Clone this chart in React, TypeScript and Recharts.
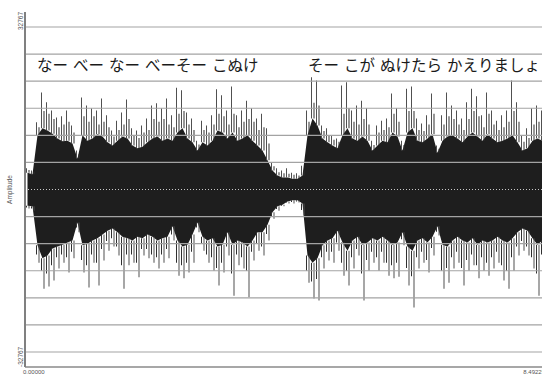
import React from "react";
import { ComposedChart, Area, Bar, XAxis, YAxis, ReferenceLine } from "recharts";

// Waveform envelope, one entry per column (amplitude units)
const CORE_HI = [3100, 2800, 10000, 11300, 10900, 10300, 9400, 8900, 9000, 8500, 5700, 10000, 9000, 9400, 10200, 9800, 8700, 8100, 9000, 9800, 9400, 8100, 7600, 7900, 8700, 9400, 9800, 9000, 9400, 9000, 10500, 11300, 9400, 8700, 7200, 8700, 8100, 9000, 10900, 10500, 9400, 10500, 9000, 9400, 10000, 9000, 8100, 7200, 5400, 3500, 2600, 2200, 2200, 2000, 2000, 2600, 10000, 13100, 11800, 9400, 8700, 8100, 7600, 10000, 11300, 9400, 9000, 9800, 9000, 7200, 8100, 9000, 8700, 10500, 9800, 7200, 10500, 11300, 9000, 8700, 9400, 10200, 6800, 9000, 9800, 10000, 9400, 8700, 9800, 10500, 9800, 9000, 10200, 9400, 8700, 9000, 9400, 10000, 8700, 7200, 7600, 9000, 9400, 9000];
const SPIKE_HI = [3900, 3500, 12400, 17900, 16100, 14600, 13300, 13500, 14600, 11800, 7200, 17000, 15500, 15000, 14600, 16800, 13700, 10900, 12700, 14200, 16600, 11300, 10900, 11800, 13100, 15500, 15900, 15000, 16800, 13700, 18800, 18300, 14200, 13100, 9000, 12700, 11800, 13700, 18500, 17400, 14600, 19000, 13700, 14600, 16400, 15000, 13100, 14000, 11300, 5000, 3900, 3500, 3900, 3100, 3000, 4400, 14600, 20700, 20100, 11800, 11300, 10000, 9400, 19200, 19800, 14600, 15500, 16400, 15000, 9000, 11800, 12700, 13100, 17700, 15000, 9000, 18600, 19000, 13100, 12200, 13700, 17700, 8100, 13700, 17900, 15500, 14600, 13100, 16100, 18600, 17200, 13700, 17900, 14600, 12700, 13700, 14600, 20100, 16100, 10000, 11300, 15000, 15500, 14600];
const SPIKE2_HI = [3600, 3300, 11500, 14500, 14000, 13000, 11500, 12000, 12500, 10500, 6500, 13500, 12500, 13500, 12000, 12500, 11500, 9800, 11000, 12000, 13000, 10000, 9500, 10500, 11000, 13000, 12500, 13000, 12000, 11500, 14000, 14500, 12000, 11000, 8300, 11000, 10500, 12000, 14000, 13500, 12000, 14000, 11500, 12500, 13000, 12500, 11000, 11500, 8500, 4300, 3200, 3000, 2900, 2700, 2600, 3500, 12500, 16000, 15500, 10800, 10000, 9200, 8800, 14000, 15000, 12500, 12000, 13000, 12000, 8200, 10500, 11000, 11500, 14000, 12500, 8200, 14500, 14500, 11000, 10800, 12000, 14000, 7500, 12000, 13500, 13000, 12000, 11000, 13000, 14500, 13500, 11500, 14000, 12000, 11000, 11500, 12500, 14500, 12500, 8800, 9500, 12000, 12500, 12000];
const CORE_LO = [-3000, -3100, -10300, -12700, -12200, -10900, -10500, -10200, -9800, -9400, -6100, -10300, -10000, -9400, -9000, -8300, -7600, -7200, -7900, -8700, -9000, -9400, -8700, -9000, -8300, -8700, -9400, -9000, -8700, -6800, -9400, -10500, -10200, -8300, -6100, -8700, -9400, -9000, -10500, -10200, -7900, -10200, -9400, -9800, -10500, -9400, -7900, -7900, -6500, -4200, -3100, -2800, -2200, -2000, -2000, -2600, -12200, -13500, -12700, -10300, -9400, -9000, -7600, -9800, -11300, -9400, -8700, -10200, -9800, -9000, -9400, -8700, -9400, -10200, -9800, -7900, -10500, -11300, -9400, -9000, -9800, -8700, -6800, -10200, -10500, -9400, -8700, -9400, -9800, -9000, -10200, -9400, -9800, -9400, -8700, -9400, -9800, -9000, -7900, -7200, -7600, -9000, -10200, -9400];
const SPIKE_LO = [-3500, -3900, -13500, -18300, -17900, -16800, -14600, -13500, -15300, -12700, -7900, -15300, -18100, -13500, -17700, -13100, -11300, -10500, -12200, -18300, -14000, -13500, -16200, -12200, -12700, -13500, -14600, -13500, -12700, -9400, -15900, -16400, -15300, -13500, -7900, -11300, -13500, -15000, -17700, -15300, -12200, -19600, -14000, -14600, -19900, -13100, -11300, -12200, -9400, -5400, -3900, -3100, -2600, -2600, -2400, -4800, -17200, -20100, -20500, -14600, -13100, -13500, -11300, -15900, -17700, -14600, -12200, -20500, -15000, -13500, -15000, -13500, -15900, -16400, -16100, -10300, -17700, -21800, -14600, -13500, -15300, -12200, -8500, -18300, -17200, -14600, -13500, -17700, -15000, -14000, -16400, -15000, -15900, -14600, -13500, -16800, -18300, -15000, -12200, -11300, -12200, -14600, -19600, -14000];
const SPIKE2_LO = [-3300, -3500, -12000, -15000, -15500, -14000, -12500, -12000, -12500, -11500, -7000, -13000, -14000, -12000, -13500, -11000, -9500, -9000, -10500, -14000, -12000, -12000, -13500, -11000, -11000, -12000, -12500, -12000, -11000, -8300, -13500, -14000, -13500, -11500, -7000, -10000, -12000, -12500, -14500, -13500, -10500, -15500, -12000, -12500, -15000, -11500, -10000, -10500, -8200, -5000, -3600, -3000, -2400, -2300, -2200, -3800, -15000, -17000, -16500, -12500, -11500, -11500, -9800, -13500, -15000, -12500, -11000, -15500, -13000, -11500, -12500, -11500, -13500, -14000, -13500, -9200, -14500, -16000, -12500, -11500, -13000, -10800, -7800, -15000, -14500, -12500, -11500, -14500, -13000, -12000, -14000, -12500, -13500, -12500, -11500, -14000, -15000, -12500, -10500, -9500, -10500, -12500, -15500, -12000];

const Y_TICKS = [-32767, 32767];
const X_TICK_LABELS = ["0.00000", "8.49229"];
const GRID_VALUES = [30000, 25000, 20000, 15000, 10000, 5000, -5000, -10000, -15000, -20000, -25000, -30000];
const LYRICS_1 = "なー べー なー べーそー こぬけ";
const LYRICS_2 = "そー こが ぬけたら かえりましょ";

const data = CORE_HI.map((_, i) => ({
  i,
  coreHi: CORE_HI[i],
  spikeHi: SPIKE_HI[i],
  spike2Hi: SPIKE2_HI[i],
  coreLo: CORE_LO[i],
  spikeLo: SPIKE_LO[i],
  spike2Lo: SPIKE2_LO[i],
}));
const LAST = data.length - 1;

const LABEL_FONT = "'Liberation Sans', Arial, sans-serif";

const YTick = (props: any) => {
  const { y, payload } = props;
  const top = payload.value > 0;
  return (
    <text
      x={23}
      y={y}
      transform={`rotate(-90 23 ${y})`}
      textAnchor={top ? "end" : "start"}
      fontSize={6.5}
      fill="#555"
      fontFamily={LABEL_FONT}
    >
      {payload.value}
    </text>
  );
};

const XTick = (props: any) => {
  const { x, y, payload } = props;
  const first = payload.value === 0;
  return (
    <text
      x={first ? x - 4.5 : x + 2.5}
      y={y + 7}
      textAnchor={first ? "start" : "end"}
      fontSize={6}
      fill="#555"
      fontFamily={LABEL_FONT}
    >
      {first ? X_TICK_LABELS[0] : X_TICK_LABELS[1]}
    </text>
  );
};

const AmpLabel = (props: any) => {
  const vb = props.viewBox || {};
  const cy = vb.y != null && vb.height != null ? vb.y + vb.height / 2 : 189;
  return (
    <text
      x={12}
      y={cy}
      transform={`rotate(-90 12 ${cy})`}
      textAnchor="middle"
      fontSize={6.5}
      fill="#555"
      fontFamily={LABEL_FONT}
    >
      Amplitude
    </text>
  );
};

const lyricStyle: React.CSSProperties = {
  position: "absolute",
  top: 57,
  fontFamily: "'Noto Sans CJK JP', sans-serif",
  fontSize: 15.5,
  lineHeight: "15.5px",
  color: "#1a1a1a",
  whiteSpace: "pre",
  wordSpacing: 1.5,
};

export default function App() {
  return (
    <div
      style={{
        position: "fixed",
        left: 0,
        top: 0,
        width: 542,
        height: 376,
        overflow: "hidden",
        background: "#fff",
      }}
    >
      <ComposedChart
        width={560}
        height={376}
        data={data}
        barGap={1.5}
        margin={{ top: 12, right: 15, bottom: 0, left: 0 }}
      >
        <XAxis xAxisId="wu" dataKey="i" type="category" hide />
        <XAxis
          xAxisId="wl"
          dataKey="i"
          type="category"
          ticks={[0, LAST]}
          interval={0}
          height={9}
          tickLine={false}
          tickSize={0}
          tickMargin={0}
          axisLine={{ stroke: "#8a8a8a", strokeWidth: 1.5 }}
          tick={<XTick />}
        />
        <YAxis
          type="number"
          domain={[-32767, 32767]}
          ticks={Y_TICKS}
          interval={0}
          allowDataOverflow
          width={25}
          tickLine={false}
          axisLine={{ stroke: "#808080", strokeWidth: 2 }}
          tick={<YTick />}
          label={<AmpLabel />}
        />
        <Bar
          xAxisId="wu"
          dataKey={(d: any) => [d.coreHi, d.spikeHi]}
          barSize={1}
          fill="#505050"
          isAnimationActive={false}
        />
        <Bar
          xAxisId="wu"
          dataKey={(d: any) => [d.coreHi, d.spike2Hi]}
          barSize={1}
          fill="#303030"
          isAnimationActive={false}
        />
        <Bar
          xAxisId="wl"
          dataKey={(d: any) => [d.spike2Lo, d.coreLo]}
          barSize={1}
          fill="#303030"
          isAnimationActive={false}
        />
        <Bar
          xAxisId="wl"
          dataKey={(d: any) => [d.spikeLo, d.coreLo]}
          barSize={1}
          fill="#505050"
          isAnimationActive={false}
        />
        <Area
          xAxisId="wu"
          type="linear"
          dataKey={(d: any) => [d.coreLo, d.coreHi]}
          stroke="none"
          fill="#1e1e1e"
          fillOpacity={1}
          isAnimationActive={false}
          dot={false}
          activeDot={false}
        />
        {GRID_VALUES.map((v) => (
          <ReferenceLine
            key={v}
            xAxisId="wu"
            y={v}
            stroke="#a3a3a3"
            strokeWidth={1.2}
          />
        ))}
        <ReferenceLine
          xAxisId="wu"
          y={0}
          stroke="#c8c8c8"
          strokeWidth={1}
          strokeDasharray="1 2"
        />
      </ComposedChart>
      <div style={{ ...lyricStyle, left: 37 }}>{LYRICS_1}</div>
      <div style={{ ...lyricStyle, left: 308 }}>{LYRICS_2}</div>
    </div>
  );
}
